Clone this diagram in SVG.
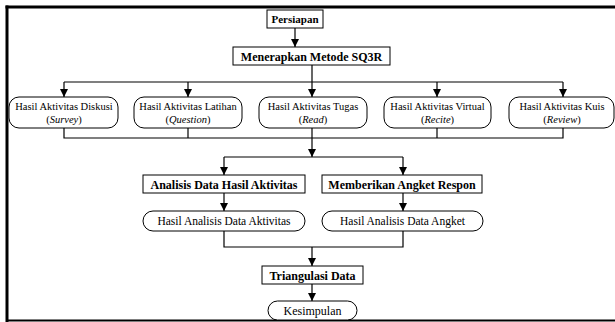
<svg xmlns="http://www.w3.org/2000/svg" width="615" height="322" viewBox="0 0 615 322">
<style>
.box{fill:#fff;stroke:#000;stroke-width:1}
.t{font-family:"Liberation Serif",serif;font-size:10.5px;fill:#000;text-anchor:middle}
.m{font-size:11.5px}
.b{font-weight:bold;font-size:12px}
.c{fill:none;stroke:#000;stroke-width:1.2}
.frame{fill:none;stroke:#000}
</style>
<defs>
<marker id="ah" viewBox="0 0 8 8" refX="8" refY="4" markerWidth="8" markerHeight="8" markerUnits="userSpaceOnUse" orient="auto">
<path d="M0,0 L8,4 L0,8 z" fill="#000"/>
</marker>
</defs>
<rect width="615" height="322" fill="#fff"/>
<g id="frame">
<line class="frame" x1="5.5" y1="7" x2="615" y2="7" stroke-width="3"/>
<line class="frame" x1="7" y1="5.5" x2="7" y2="322" stroke-width="3"/>
<line class="frame" x1="6" y1="320.5" x2="615" y2="320.5" stroke-width="2"/>
</g>
<g id="connectors">
<line class="c" x1="295" y1="28" x2="295" y2="47" marker-end="url(#ah)"/>
<polyline class="c" points="312,65 312,82"/>
<line class="c" x1="64" y1="82" x2="563" y2="82"/>
<line class="c" x1="64" y1="82" x2="64" y2="97" marker-end="url(#ah)"/>
<line class="c" x1="188" y1="82" x2="188" y2="97" marker-end="url(#ah)"/>
<line class="c" x1="312" y1="82" x2="312" y2="97" marker-end="url(#ah)"/>
<line class="c" x1="437" y1="82" x2="437" y2="97" marker-end="url(#ah)"/>
<line class="c" x1="563" y1="82" x2="563" y2="97" marker-end="url(#ah)"/>
<polyline class="c" points="64,128 64,138 563,138 563,128"/>
<line class="c" x1="188" y1="128" x2="188" y2="138"/>
<line class="c" x1="437" y1="128" x2="437" y2="138"/>
<line class="c" x1="312" y1="128" x2="312" y2="157" marker-end="url(#ah)"/>
<line class="c" x1="224" y1="157" x2="403" y2="157"/>
<line class="c" x1="224" y1="157" x2="224" y2="175" marker-end="url(#ah)"/>
<line class="c" x1="403" y1="157" x2="403" y2="175" marker-end="url(#ah)"/>
<line class="c" x1="224" y1="193" x2="224" y2="211" marker-end="url(#ah)"/>
<line class="c" x1="403" y1="193" x2="403" y2="211" marker-end="url(#ah)"/>
<polyline class="c" points="224,231 224,247 403,247 403,231"/>
<line class="c" x1="312" y1="247" x2="312" y2="266" marker-end="url(#ah)"/>
<line class="c" x1="312" y1="284" x2="312" y2="301" marker-end="url(#ah)"/>
</g>
<g id="persiapan"><rect class="box" x="267" y="10" width="56" height="18"/><text class="t b" x="295" y="23" style="font-size:11px">Persiapan</text></g>
<g id="menerapkan"><rect class="box" x="233" y="47" width="157" height="18"/><text class="t b" x="311.5" y="60.5">Menerapkan Metode SQ3R</text></g>
<g id="diskusi"><rect class="box" x="9" y="97" width="109" height="31" rx="10"/><text class="t" x="64" y="110">Hasil Aktivitas Diskusi</text><text class="t" x="64" y="123">(<tspan font-style="italic">Survey</tspan>)</text></g>
<g id="latihan"><rect class="box" x="134" y="97" width="108" height="31" rx="10"/><text class="t" x="188" y="110">Hasil Aktivitas Latihan</text><text class="t" x="188" y="123">(<tspan font-style="italic">Question</tspan>)</text></g>
<g id="tugas"><rect class="box" x="259" y="97" width="108" height="31" rx="10"/><text class="t" x="313" y="110">Hasil Aktivitas Tugas</text><text class="t" x="313" y="123">(<tspan font-style="italic">Read</tspan>)</text></g>
<g id="virtual"><rect class="box" x="384" y="97" width="107" height="31" rx="10"/><text class="t" x="437.5" y="110">Hasil Aktivitas Virtual</text><text class="t" x="437.5" y="123">(<tspan font-style="italic">Recite</tspan>)</text></g>
<g id="kuis"><rect class="box" x="509" y="97" width="105" height="31" rx="10"/><text class="t" x="562" y="110">Hasil Aktivitas Kuis</text><text class="t" x="562" y="123">(<tspan font-style="italic">Review</tspan>)</text></g>
<g id="analisis"><rect class="box" x="143" y="175" width="162" height="18"/><text class="t b" x="224" y="188.5">Analisis Data Hasil Aktivitas</text></g>
<g id="angket"><rect class="box" x="322" y="175" width="160" height="18"/><text class="t b" x="402" y="188.5">Memberikan Angket Respon</text></g>
<g id="hasil-aktivitas"><rect class="box" x="143" y="211" width="162" height="20" rx="10"/><text class="t m" x="224" y="225">Hasil Analisis Data Aktivitas</text></g>
<g id="hasil-angket"><rect class="box" x="322" y="211" width="161" height="20" rx="10"/><text class="t m" x="402.5" y="225">Hasil Analisis Data Angket</text></g>
<g id="triangulasi"><rect class="box" x="262" y="266" width="101" height="18"/><text class="t b" x="312.5" y="279.5">Triangulasi Data</text></g>
<g id="kesimpulan"><rect class="box" x="268" y="301" width="89" height="19" rx="9.5"/><text class="t" x="312.5" y="314.5" style="font-size:12px">Kesimpulan</text></g>
</svg>
